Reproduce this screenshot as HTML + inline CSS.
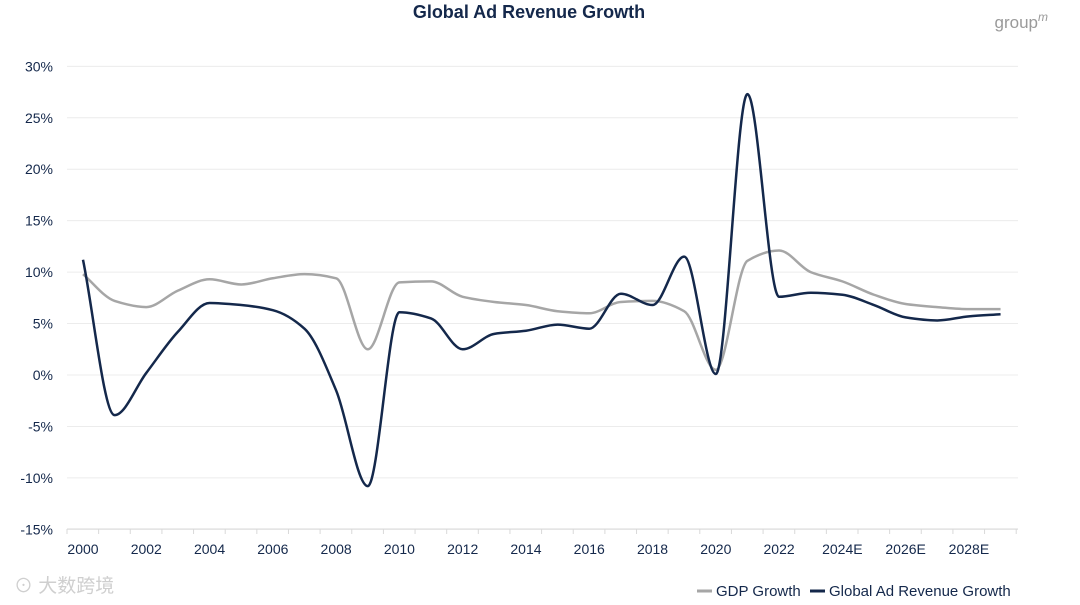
<!DOCTYPE html>
<html><head><meta charset="utf-8"><style>
body{margin:0;background:#fff;width:1080px;height:605px;overflow:hidden;font-family:"Liberation Sans","Noto Sans CJK SC",sans-serif}
</style></head><body>
<svg id="c" width="1080" height="605" style="position:absolute;left:0;top:0">
<text x="529" y="18" text-anchor="middle" font-size="18" font-weight="bold" fill="#14284b">Global Ad Revenue Growth</text>
<text x="1048" y="28" text-anchor="end" font-size="17" fill="#9a9a9a">group<tspan font-size="12" dy="-7" font-style="italic">m</tspan></text>
<text x="14" y="592" font-size="19" fill="#cfcfcf">⊙ 大数跨境</text>
<g id="grid"></g><g id="axes"></g><g id="lines"></g>
<g>
<line x1="697" y1="591" x2="712" y2="591" stroke="#a6a6a6" stroke-width="3"/>
<text x="716" y="596" font-size="15" fill="#14284b">GDP Growth</text>
<line x1="810" y1="591" x2="825" y2="591" stroke="#14284b" stroke-width="3"/>
<text x="829" y="596" font-size="15" fill="#14284b">Global Ad Revenue Growth</text>
</g>
</svg>
<script>
const years=[2000,2001,2002,2003,2004,2005,2006,2007,2008,2009,2010,2011,2012,2013,2014,2015,2016,2017,2018,2019,2020,2021,2022,2023,2024,2025,2026,2027,2028,2029];
const gdp=[9.8,7.2,6.6,8.2,9.3,8.8,9.4,9.8,9.4,2.5,9.0,9.1,7.6,7.1,6.8,6.2,6.0,7.1,7.2,6.2,0.5,11.1,12.1,10.0,9.1,7.8,6.9,6.6,6.4,6.4];
const ad=[11.2,-3.9,0.2,4.2,7.0,6.8,6.3,4.5,-1.5,-10.8,6.1,5.5,2.5,4.0,4.3,4.9,4.5,7.9,6.8,11.5,0.1,27.3,7.6,8.0,7.8,6.8,5.6,5.3,5.7,5.9];
const yTicks=[30,25,20,15,10,5,0,-5,-10,-15];
const xLabels=["2000","2002","2004","2006","2008","2010","2012","2014","2016","2018","2020","2022","2024E","2026E","2028E"];
const NS="http://www.w3.org/2000/svg";
const X=y=>83+(y-2000)*31.64, Y=v=>375-v*10.289;
function mk(t,a,p){const e=document.createElementNS(NS,t);for(const k in a)e.setAttribute(k,a[k]);p.appendChild(e);return e;}
const grid=document.getElementById('grid'),axes=document.getElementById('axes'),lines=document.getElementById('lines');
yTicks.forEach(v=>{
 const l=mk('line',{x1:67,x2:1018,y1:Y(v),y2:Y(v),stroke:'#ececec','stroke-width':1},grid);
 
 
 const t=mk('text',{x:53,y:Y(v)+5,'text-anchor':'end','font-size':14,fill:'#14284b'},axes);
 t.textContent=v+'%';
 
 
});
mk('line',{x1:67,x2:1018,y1:529,y2:529,stroke:'#d9d9d9'},axes);
for(let i=0;i<=30;i++){const x=67+i*31.64;mk('line',{x1:x,x2:x,y1:529,y2:534,stroke:'#d9d9d9'},axes);}
xLabels.forEach((s,i)=>{
 const t=mk('text',{x:X(2000+2*i),y:554,'text-anchor':'middle','font-size':14,fill:'#14284b'},axes);
 t.textContent=s;
 
 
});
function path(vals){
 const p=vals.map((v,i)=>[X(years[i]),Y(v)]);
 const n=p.length,h=p[1][0]-p[0][0];
 const s=[];for(let i=0;i<n-1;i++)s.push((p[i+1][1]-p[i][1])/h);
 const m=[s[0]];
 for(let i=1;i<n-1;i++){m.push(s[i-1]*s[i]<=0?0:2/(1/s[i-1]+1/s[i]));}
 m.push(s[n-2]);
 let d='M'+p[0][0]+','+p[0][1];
 for(let i=0;i<n-1;i++){
  d+=`C${p[i][0]+h/3},${p[i][1]+m[i]*h/3} ${p[i+1][0]-h/3},${p[i+1][1]-m[i+1]*h/3} ${p[i+1][0]},${p[i+1][1]}`;
 }
 return d;
}
const g=mk('path',{d:path(gdp),fill:'none',stroke:'#a6a6a6','stroke-width':2.5},lines);


const a=mk('path',{d:path(ad),fill:'none',stroke:'#14284b','stroke-width':2.5},lines);


</script>
</body></html>
